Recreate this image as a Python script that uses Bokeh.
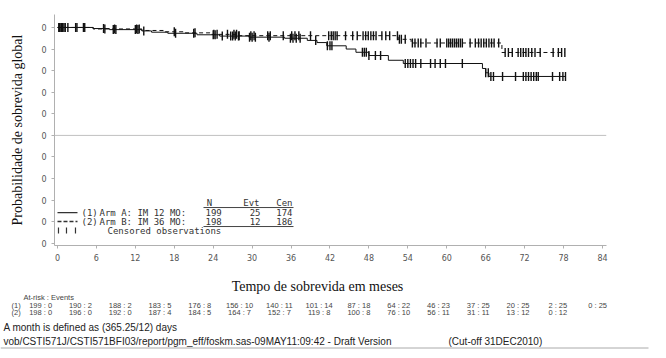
import numpy as np
from bokeh.plotting import figure
from bokeh.models import Range1d, Span, FixedTicker
from bokeh.layouts import column, row
from bokeh.core.properties import value
from bokeh.embed import file_html
from bokeh.resources import INLINE

# ---------------- data ----------------
x_ticks = [0, 6, 12, 18, 24, 30, 36, 42, 48, 54, 60, 66, 72, 78, 84]
y_ticks = [0.0, 0.1, 0.2, 0.3, 0.4, 0.5, 0.6, 0.7, 0.8, 0.9, 1.0]
y_tick_labels = ["0"] * 11

# Arm A (solid) Kaplan-Meier steps
arm_a_times = [0, 5.5, 8.0, 13.0, 14.5, 17.0, 21.5, 25.0, 29.5, 35.0, 38.5, 40.0, 41.5,
               44.5, 46.0, 48.0, 51.0, 53.3, 65.5, 66.0, 66.5]
arm_a_surv = [1.0, 0.995, 0.99, 0.984, 0.978, 0.973, 0.966, 0.96, 0.955, 0.95, 0.94, 0.93, 0.915,
              0.90, 0.885, 0.87, 0.848, 0.833, 0.81, 0.79, 0.773]
arm_a_end = 78.3
arm_a_cens = [0.2, 0.4, 0.6, 0.8, 1.0, 1.6, 2.8, 4.0, 7.1, 8.6, 9.0, 12.0, 12.4, 13.3, 18.2,
              21.0, 24.0, 24.3, 25.4, 26.7, 27.0, 27.4, 27.9, 29.6, 30.0, 30.5, 32.6, 35.9,
              36.3, 36.8, 37.4, 39.8, 41.6, 42.0, 42.3, 47.0, 47.3, 47.6, 48.0, 49.0, 49.8,
              53.6, 54.0, 54.4, 54.8, 55.2, 56.0, 57.5, 58.2, 59.0, 59.8, 62.4, 66.0, 66.4,
              66.8, 67.2, 68.6, 70.6, 71.8, 72.2, 72.6, 73.0, 73.4, 73.8, 74.1, 76.3, 77.4,
              77.9, 78.3]

# Arm B (dashed) Kaplan-Meier steps
arm_b_times = [0, 5.5, 13.0, 16.5, 19.5, 23.5, 28.0, 52.5, 54.5, 68.5]
arm_b_surv = [1.0, 0.993, 0.986, 0.98, 0.975, 0.968, 0.962, 0.945, 0.928, 0.884]
arm_b_end = 78.2
arm_b_cens = [0.3, 0.7, 1.2, 3.0, 4.2, 7.3, 8.8, 12.2, 12.6, 18.0, 21.2, 24.1, 24.6, 26.2,
              27.2, 27.6, 28.0, 29.8, 30.3, 32.4, 32.8, 34.8, 36.1, 36.6, 37.2, 39.0, 41.8,
              42.2, 42.5, 42.8, 43.1, 44.4, 45.5, 46.2, 47.1, 47.5, 47.9, 48.3, 48.7, 49.1,
              50.0, 50.6, 51.2, 52.4, 52.7, 53.0, 53.6, 54.7, 55.1, 55.6, 56.0, 56.8, 58.5,
              59.0, 60.0, 60.3, 60.6, 60.9, 61.2, 61.5, 61.8, 62.1, 62.4, 63.6, 64.4, 64.9,
              65.3, 65.7, 66.1, 66.5, 66.9, 67.3, 68.0, 69.0, 69.5, 70.1, 71.0, 71.4, 71.8,
              72.2, 72.6, 73.1, 73.6, 74.4, 76.4, 77.2, 77.7, 78.2]

legend_header = ["N", "Evt", "Cen"]
arm_a_label = "Arm A: IM 12 MO:"
arm_b_label = "Arm B: IM 36 MO:"
arm_a_stats = ["199", "25", "174"]
arm_b_stats = ["198", "12", "186"]

risk_a = ["199 : 0", "190 : 2", "188 : 2", "183 : 5", "176 : 8", "156 : 10", "140 : 11",
          "101 : 14", "87 : 18", "64 : 22", "46 : 23", "37 : 25", "20 : 25", "2 : 25", "0 : 25"]
risk_b = ["198 : 0", "196 : 0", "192 : 0", "187 : 4", "184 : 5", "164 : 7", "152 : 7",
          "119 : 8", "100 : 8", "76 : 10", "56 : 11", "31 : 11", "13 : 12", "0 : 12"]

# ---------------- helpers ----------------
def step_xy(times, surv, end):
    xs, ys = [times[0]], [surv[0]]
    for i in range(1, len(times)):
        xs += [times[i], times[i]]
        ys += [surv[i - 1], surv[i]]
    xs.append(end)
    ys.append(surv[-1])
    return xs, ys

def surv_at(times, surv, t):
    idx = np.searchsorted(np.array(times), t, side="right") - 1
    return surv[max(idx, 0)]

PX0, PXU = 57.0, 6.488          # x pixel of month 0, pixels per month
PY1, PYU = 26.9, 215.9          # y pixel of survival 1.0, pixels per unit
def mx(px):
    return (px - PX0) / PXU
def my(py):
    return 1.0 - (py - PY1) / PYU

W = 666
MAIN_H = 270
BOT_H = 358 - MAIN_H

# ---------------- main figure ----------------
p = figure(width=W, height=MAIN_H, output_backend="svg", toolbar_location=None,
           x_range=Range1d(-0.46, 84.62), y_range=Range1d(-0.01, 1.06),
           min_border_left=54, min_border_right=60, min_border_top=14, min_border_bottom=25)
p.outline_line_color = None
p.background_fill_color = "white"
p.border_fill_color = "white"
p.xgrid.visible = False
p.ygrid.visible = False

p.xaxis.ticker = FixedTicker(ticks=x_ticks)
p.yaxis.ticker = FixedTicker(ticks=y_ticks)
p.yaxis.major_label_overrides = {t: l for t, l in zip(y_ticks, y_tick_labels)}
for ax in (p.xaxis, p.yaxis):
    ax.axis_line_color = "#b0b0b0"
    ax.axis_line_width = 1
    ax.major_tick_line_color = "#b0b0b0"
    ax.major_tick_out = 3
    ax.major_tick_in = 0
    ax.minor_tick_line_color = None
    ax.major_label_text_font = "DejaVu Sans"
    ax.major_label_text_font_size = "8px"
    ax.major_label_text_color = "#555555"
p.xaxis.major_label_standoff = 5
p.yaxis.major_label_standoff = 5
p.yaxis.axis_label = "Probabilidade de sobrevida global"
p.yaxis.axis_label_text_font = "Liberation Serif"
p.yaxis.axis_label_text_font_style = "normal"
p.yaxis.axis_label_text_font_size = "14px"
p.yaxis.axis_label_text_color = "#111111"
p.yaxis.axis_label_standoff = 13

p.add_layout(Span(location=0.5, dimension="width", line_color="#c0c0c0", line_width=1))

ax_, ay_ = step_xy(arm_a_times, arm_a_surv, arm_a_end)
bx_, by_ = step_xy(arm_b_times, arm_b_surv, arm_b_end)
p.line(bx_, by_, line_color="#111111", line_width=1, line_dash="4 3")
p.line(ax_, ay_, line_color="#111111", line_width=1)

ca_y = [surv_at(arm_a_times, arm_a_surv, t) for t in arm_a_cens]
cb_y = [surv_at(arm_b_times, arm_b_surv, t) for t in arm_b_cens]
p.scatter(arm_a_cens, ca_y, marker="dash", angle=np.pi / 2, size=9,
          line_color="#111111", line_width=1.4)
p.scatter(arm_b_cens, cb_y, marker="dash", angle=np.pi / 2, size=9,
          line_color="#111111", line_width=1.4)

# legend block
mono = value("DejaVu Sans Mono")
lg_col = "#333333"
fs = "9px"
row_y = [202, 212, 221, 230]
p.text([mx(209)], [my(row_y[0])], text=[legend_header[0]], text_font=mono, text_font_size=fs,
       text_color=lg_col, text_align="center", text_baseline="middle")
p.text([mx(259), mx(292)], [my(row_y[0])] * 2, text=legend_header[1:], text_font=mono,
       text_font_size=fs, text_color=lg_col, text_align="right", text_baseline="middle")
p.line([mx(57), mx(77)], [my(row_y[1])] * 2, line_color="#333333", line_width=1.2)
p.line([mx(57), mx(77)], [my(row_y[2])] * 2, line_color="#333333", line_width=1.4,
       line_dash="4 2")
p.text([mx(81), mx(81)], [my(row_y[1]), my(row_y[2])], text=["(1)", "(2)"], text_font=mono,
       text_font_size=fs, text_color=lg_col, text_baseline="middle")
p.text([mx(99), mx(99)], [my(row_y[1]), my(row_y[2])], text=[arm_a_label, arm_b_label],
       text_font=mono, text_font_size=fs, text_color=lg_col, text_baseline="middle")
for stats, ry in ((arm_a_stats, row_y[1]), (arm_b_stats, row_y[2])):
    p.text([mx(205)], [my(ry)], text=[stats[0]], text_font=mono, text_font_size=fs,
           text_color=lg_col, text_baseline="middle")
    p.text([mx(260), mx(292)], [my(ry)] * 2, text=stats[1:], text_font=mono,
           text_font_size=fs, text_color=lg_col, text_align="right", text_baseline="middle")
p.line([mx(203), mx(293)], [my(207)] * 2, line_color="#444444", line_width=1)
p.line([mx(203), mx(293)], [my(226)] * 2, line_color="#444444", line_width=1)
p.scatter([mx(58), mx(66), mx(75)], [my(row_y[3])] * 3, marker="dash", angle=np.pi / 2,
          size=6, line_color="#333333", line_width=1.2)
p.text([mx(107)], [my(row_y[3])], text=["Censored observations"], text_font=mono,
       text_font_size=fs, text_color=lg_col, text_baseline="middle")

# ---------------- bottom figure (axis title, at-risk table, footnotes) ----------------
b = figure(width=W, height=BOT_H, output_backend="svg", toolbar_location=None,
           x_range=Range1d(-PX0 / PXU, (W - PX0) / PXU), y_range=Range1d(BOT_H, 0),
           x_axis_location=None, y_axis_location=None,
           min_border=0, min_border_left=0, min_border_right=0,
           min_border_top=0, min_border_bottom=0)
b.grid.visible = False
b.outline_line_color = None
b.background_fill_color = "white"
b.border_fill_color = "white"

def bx(px):
    return (px - PX0) / PXU
def by(py):
    return py - MAIN_H

b.text([bx(317)], [by(286)], text=["Tempo de sobrevida em meses"],
       text_font=value("Liberation Serif"), text_font_size="14px", text_color="#111111",
       text_align="center", text_baseline="middle")

sm = value("Liberation Sans")
rfs = "7.5px"
b.text([bx(23)], [by(297)], text=["At-risk : Events"], text_font=sm, text_font_size=rfs,
       text_color="#444444", text_baseline="middle")
b.text([bx(11), bx(11)], [by(305), by(312)], text=["(1)", "(2)"], text_font=sm,
       text_font_size=rfs, text_color="#444444", text_baseline="middle")
ra_x = [t * 1.022 - 2.6 for t in x_ticks[:len(risk_a)]]
rb_x = [t * 1.022 - 2.6 for t in x_ticks[:len(risk_b)]]
b.text(ra_x, [by(305)] * len(risk_a), text=risk_a, text_font=sm, text_font_size=rfs,
       text_color="#444444", text_align="center", text_baseline="middle")
b.text(rb_x, [by(312)] * len(risk_b), text=risk_b, text_font=sm, text_font_size=rfs,
       text_color="#444444", text_align="center", text_baseline="middle")

b.text([bx(3)], [by(327)], text=["A month is defined as (365.25/12) days"], text_font=sm,
       text_font_size="10px", text_color="#222222", text_baseline="middle")
b.text([bx(3)], [by(341)],
       text=["vob/CSTI571J/CSTI571BFI03/report/pgm_eff/foskm.sas-09MAY11:09:42 - Draft Version"],
       text_font=sm, text_font_size="10px", text_color="#222222", text_baseline="middle")
b.text([bx(448)], [by(341)], text=["(Cut-off 31DEC2010)"], text_font=sm,
       text_font_size="10px", text_color="#222222", text_baseline="middle")
b.line([bx(0), bx(648)], [by(347.5)] * 2, line_color="#aaaaaa", line_width=1)

layout = column(p, row(b, spacing=0), spacing=0)
open("out.html", "w").write(file_html(layout, INLINE))
